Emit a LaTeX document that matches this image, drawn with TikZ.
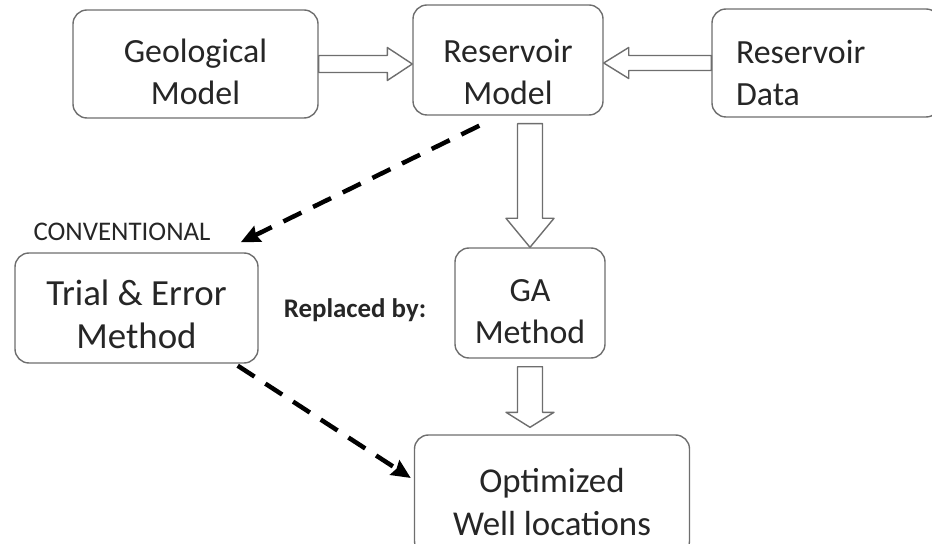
\documentclass[tikz,border=0pt]{standalone}
\usepackage{fontspec}
\setmainfont{Carlito}
\usetikzlibrary{positioning, arrows.meta, calc}
\definecolor{boxgray}{HTML}{6E6E6E}
\definecolor{textgray}{HTML}{262626}

% hollow block arrow: from, to, shaft half width, head half width, head length
\newcommand{\hollowarrow}[5]{%
  \coordinate (ha-s) at (#1);
  \coordinate (ha-e) at (#2);
  \coordinate (ha-b) at ($(ha-e)!#5!(ha-s)$);
  \draw[hollow] ($(ha-s)!#3!90:(ha-e)$) -- ($(ha-b)!#3!90:(ha-e)$) -- ($(ha-b)!#4!90:(ha-e)$)
    -- (ha-e) -- ($(ha-b)!#4!-90:(ha-e)$) -- ($(ha-b)!#3!-90:(ha-e)$) -- ($(ha-s)!#3!-90:(ha-e)$) -- cycle;
}

\begin{document}
\begin{tikzpicture}[
    x=1bp, y=-1bp,
    every node/.style={font=\fontsize{34}{42}\selectfont, text=textgray},
    box/.style={draw=boxgray, line width=1.4bp, rounded corners=14bp, align=center, inner sep=0pt, fill=white,
      text height=81bp, text depth=0pt},
    small/.style={font=\fontsize{27}{32}\selectfont},
    hollow/.style={draw=boxgray, line width=1.4bp, fill=white, line join=round},
    dasharrow/.style={line width=4.5bp, dash pattern=on 20bp off 13bp, -{Stealth[length=19bp, width=17bp, inset=2bp]}},
  ]
  \useasboundingbox (0,0) rectangle (932,544);

  % Top row
  \node[box, minimum width=245bp, minimum height=108bp] (geo) at (195.5,64) {Geological\\Model};
  \node[box, minimum width=190bp, minimum height=110bp, text height=89bp] (resm) at (508,60) {Reservoir\\Model};
  \node[box, minimum width=228bp, minimum height=108bp, text width=180bp, align=left,
        text height=44bp, text depth=42bp] (rdat) at (826,63) {Reservoir\\Data};

  % Middle row
  \node[box, minimum width=243bp, minimum height=110bp, font=\fontsize{37}{43}\selectfont] (trial) at (136.5,308) {Trial \& Error\\Method};
  \node[small, anchor=west] (conv) at (30,232) {CONVENTIONAL};
  \node[small, font=\bfseries\fontsize{27}{32}\selectfont] (repl) at (355,310) {Replaced by:};
  \node[box, minimum width=150bp, minimum height=110bp] (gam) at (530,303) {GA\\Method};

  % Bottom row
  \node[box, minimum width=275bp, minimum height=120bp, font=\fontsize{35}{43}\selectfont] (opt) at (552,495) {Optimized\\Well locations};

  % Block arrows
  \hollowarrow{geo.east}{geo.east -| resm.west}{8.5bp}{16.5bp}{25bp}
  \hollowarrow{rdat.west}{rdat.west -| resm.east}{7.5bp}{15.5bp}{25bp}
  \coordinate (ga-in) at ($(resm.south -| gam.north)+(0,8)$);
  \hollowarrow{ga-in}{gam.north}{12.5bp}{24bp}{29bp}
  \coordinate (opt-in) at ($(gam.south)+(0,8)$);
  \coordinate (opt-tip) at ($(opt.north -| gam.south)+(0,-7)$);
  \hollowarrow{opt-in}{opt-tip}{12.5bp}{24bp}{15bp}

  % Dashed arrows
  \coordinate (d1s) at ($(resm.south west)+(67,10)$);
  \coordinate (d1e) at ($(trial.north east)+(-18,-10)$);
  \draw[dasharrow] (d1s) -- (d1e);
  \coordinate (d2s) at ($(trial.south east)+(-21,2)$);
  \coordinate (d2e) at ($(opt.west)+(-3,-17)$);
  \draw[dasharrow] (d2s) -- (d2e);
\end{tikzpicture}
\end{document}
